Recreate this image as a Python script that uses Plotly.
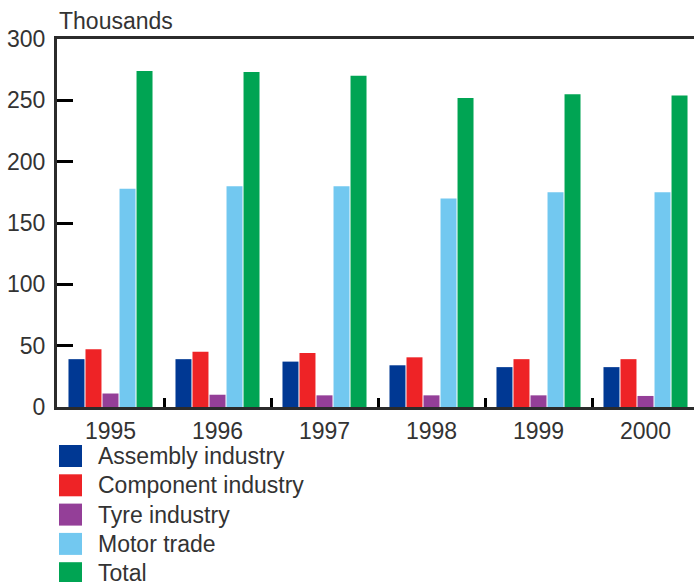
import plotly.graph_objects as go

years = ["1995", "1996", "1997", "1998", "1999", "2000"]
series_names = ["Assembly industry", "Component industry", "Tyre industry", "Motor trade", "Total"]
assembly = [39, 39, 37, 34, 32.5, 32.5]
component = [47, 45, 44, 40.5, 39, 39]
tyre = [11, 10, 9.5, 9.5, 9.5, 9]
motor_trade = [178, 180, 180, 170, 175, 175]
total = [274, 273, 270, 252, 255, 254]
colors = ["#003893", "#EE2326", "#943F98", "#72C8F0", "#00A453"]
y_ticks = [0, 50, 100, 150, 200, 250, 300]

W, H = 694, 582
ML, MR, MT, MB = 57, 0, 39, 175
PW, PH = W - ML - MR, H - MT - MB
FONT = "Liberation Sans"
TXT = "#333333"
FS = 23

fig = go.Figure()
for name, vals, col in zip(series_names, [assembly, component, tyre, motor_trade, total], colors):
    fig.add_trace(go.Bar(x=years, y=vals, name=name, marker=dict(color=col, line=dict(width=0)),
                         showlegend=False))

# legend drawn as swatches + labels below the plot
def px_to_paper_y(py):
    return (H - MB - py) / PH

def px_to_paper_x(px):
    return (px - ML) / PW

shapes = []
annotations = []
leg_top = 445
leg_step = 29.3
sw = 23
for i, (name, col) in enumerate(zip(series_names, colors)):
    y0 = leg_top + i * leg_step
    shapes.append(dict(type="rect", xref="paper", yref="paper",
                       x0=px_to_paper_x(59), x1=px_to_paper_x(59 + sw),
                       y0=px_to_paper_y(y0 + 22), y1=px_to_paper_y(y0),
                       fillcolor=col, line=dict(width=0)))
    annotations.append(dict(text=name, xref="paper", yref="paper",
                            x=px_to_paper_x(96), y=px_to_paper_y(y0 + 11),
                            xanchor="left", yanchor="middle", showarrow=False,
                            font=dict(family=FONT, size=FS, color=TXT)))

annotations.append(dict(text="Thousands", xref="paper", yref="paper",
                        x=0, y=px_to_paper_y(21), xanchor="left", yanchor="middle",
                        showarrow=False, font=dict(family=FONT, size=FS, color=TXT)))

fig.update_layout(
    width=W, height=H,
    margin=dict(l=ML, r=MR, t=MT, b=MB, pad=0),
    plot_bgcolor="white", paper_bgcolor="white",
    barmode="group", bargap=0.205, bargroupgap=0.06,
    font=dict(family=FONT, size=FS, color=TXT),
    shapes=shapes, annotations=annotations,
    xaxis=dict(type="category", range=[-0.5, -0.5 + PW / 107.0],
               showline=True, linecolor="#2b2b2b", linewidth=3, mirror=True,
               ticks="inside", tickson="boundaries", ticklen=9, tickwidth=3, tickcolor="black",
               showgrid=False, tickfont=dict(family=FONT, size=FS, color=TXT),
               ticklabelstandoff=1),
    yaxis=dict(range=[0, 300], tickvals=y_ticks, showline=True, linecolor="#2b2b2b", linewidth=3,
               ticks="inside", ticklen=16, tickwidth=3, tickcolor="black",
               showgrid=False, zeroline=False, tickfont=dict(family=FONT, size=FS, color=TXT),
               ticklabelstandoff=4),
)

fig.write_html("out.html")
